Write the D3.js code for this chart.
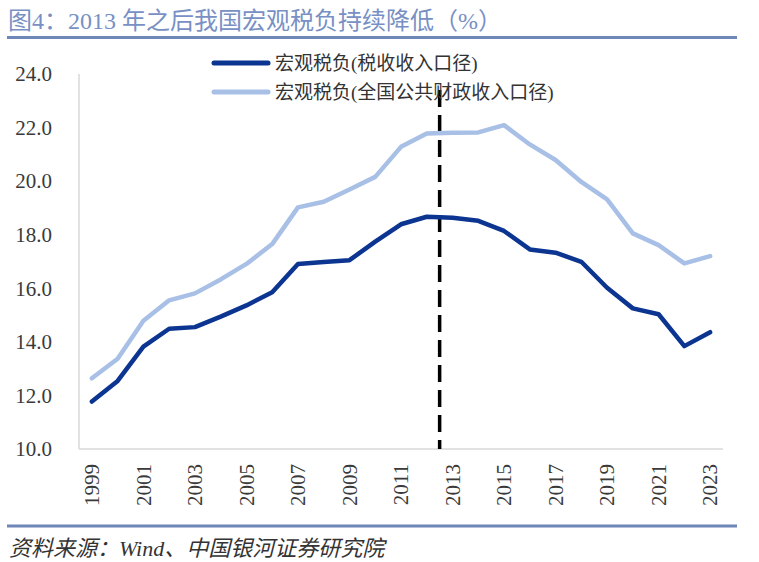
<!DOCTYPE html>
<html><head><meta charset="utf-8">
<script src="https://cdn.jsdelivr.net/npm/d3@7"></script>
<style>
html,body{margin:0;padding:0;background:#fff;}
svg{display:block;}
</style></head>
<body>
<svg id="c" width="759" height="562"></svg>
<script>
const years = [1999,2000,2001,2002,2003,2004,2005,2006,2007,2008,2009,2010,2011,2012,2013,2014,2015,2016,2017,2018,2019,2020,2021,2022,2023];
const taxBurden = [11.77,12.54,13.82,14.49,14.55,14.94,15.36,15.85,16.91,16.98,17.05,17.74,18.39,18.67,18.63,18.52,18.14,17.45,17.33,16.99,16.02,15.25,15.03,13.84,14.36];
const fiscalBurden = [12.64,13.37,14.79,15.55,15.81,16.33,16.91,17.65,19.02,19.23,19.69,20.16,21.28,21.78,21.81,21.82,22.09,21.37,20.79,19.97,19.32,18.05,17.61,16.93,17.20];
const seriesNames = ["宏观税负(税收收入口径)","宏观税负(全国公共财政收入口径)"];
const yTicks = [10,12,14,16,18,20,22,24];
const xTickYears = [1999,2001,2003,2005,2007,2009,2011,2013,2015,2017,2019,2021,2023];
const markerYear = 2012.5;
const titleText = "图4：2013 年之后我国宏观税负持续降低（%）";
const sourceText = "资料来源：Wind、中国银河证券研究院";

const FONT = "'Liberation Serif','Noto Sans CJK SC',serif";
const colors = ["#0b3590","#a8bfe6"];
const svg = d3.select("#c");

const x = d3.scalePoint().domain(years).range([79,723]).padding(0.5);
const y = d3.scaleLinear().domain([10,24]).range([449,74]);

// title
svg.append("text").attr("x",8).attr("y",29).attr("font-family",FONT).attr("font-size",24)
  .attr("fill","#7890c4").text(titleText);
svg.append("line").attr("x1",7).attr("x2",737).attr("y1",37.5).attr("y2",37.5)
  .attr("stroke","#6f86b9").attr("stroke-width",3);

// axes
svg.append("line").attr("x1",79).attr("x2",79).attr("y1",y(24)).attr("y2",y(10))
  .attr("stroke","#d9d9d9").attr("stroke-width",1.5);
svg.append("line").attr("x1",79).attr("x2",723).attr("y1",y(10)).attr("y2",y(10))
  .attr("stroke","#d9d9d9").attr("stroke-width",1.5);

svg.append("g").selectAll("text").data(yTicks).join("text")
  .attr("x",52).attr("y",d=>y(d)).attr("dy","0.35em").attr("text-anchor","end")
  .attr("font-family",FONT).attr("font-size",21).attr("fill","#3a3a3a")
  .text(d=>d3.format(".1f")(d));

svg.append("g").selectAll("text").data(xTickYears).join("text")
  .attr("transform",d=>`translate(${x(d)},464) rotate(-90)`)
  .attr("dy","0.35em").attr("text-anchor","end")
  .attr("font-family",FONT).attr("font-size",21).attr("fill","#3a3a3a")
  .text(d=>d);

// dashed marker
const step = x.step();
const mx = x(2012) + step*(markerYear-2012);
svg.append("line").attr("x1",mx).attr("x2",mx).attr("y1",90).attr("y2",y(10))
  .attr("stroke","#000").attr("stroke-width",3.5).attr("stroke-dasharray","17,8");

// lines
const line = d3.line().x((d,i)=>x(years[i])).y(d=>y(d));
[fiscalBurden, taxBurden].forEach((s,k)=>{
  const ci = k===0?1:0;
  svg.append("path").attr("d",line(s)).attr("fill","none")
    .attr("stroke",colors[ci]).attr("stroke-width",4.5)
    .attr("stroke-linejoin","round").attr("stroke-linecap","round");
});

// legend
const lg = svg.append("g");
[63,92].forEach((ly,i)=>{
  lg.append("line").attr("x1",214).attr("x2",268).attr("y1",ly).attr("y2",ly)
    .attr("stroke",colors[i]).attr("stroke-width",5).attr("stroke-linecap","round");
  lg.append("text").attr("x",275).attr("y",ly).attr("dy","0.35em")
    .attr("font-family",FONT).attr("font-size",19)
    .attr("fill","#333").text(seriesNames[i]);
});

// footer
svg.append("line").attr("x1",7).attr("x2",737).attr("y1",526).attr("y2",526)
  .attr("stroke","#6f86b9").attr("stroke-width",3);
svg.append("text").attr("x",9).attr("y",556).attr("font-family",FONT).attr("font-size",22)
  .attr("font-style","italic").attr("fill","#333").text(sourceText);
</script>
</body></html>
